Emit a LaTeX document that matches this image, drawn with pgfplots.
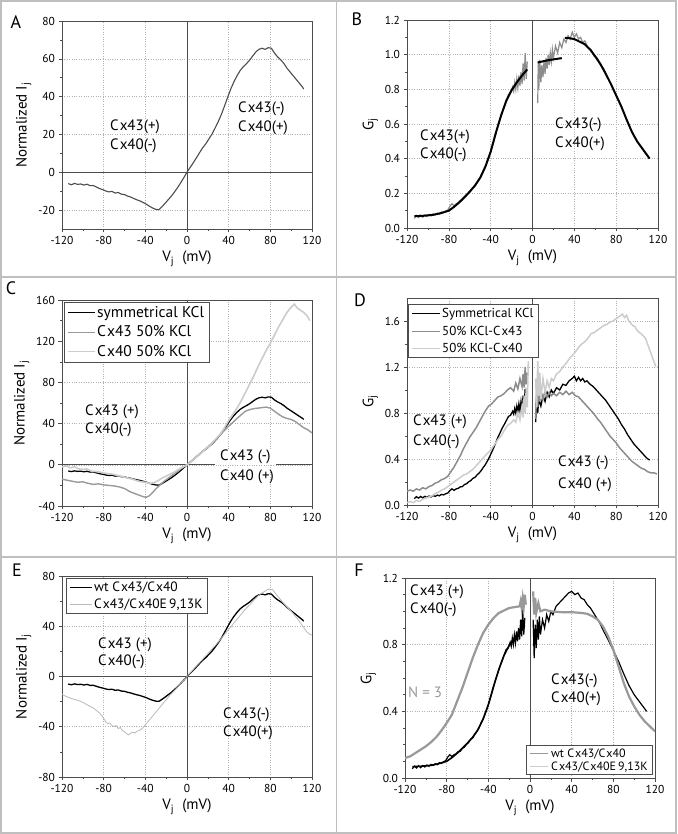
\documentclass[border=0pt]{standalone}
\usepackage{pgfplots}
\pgfplotsset{compat=1.18}
\usepackage{pgfplotstable}
\usepackage{fontspec}
\setmainfont{PT Sans}
\definecolor{frame}{gray}{0.75}
\definecolor{axc}{gray}{0.3}
\definecolor{mgray}{gray}{0.55}
\definecolor{cgray}{gray}{0.6}
\definecolor{lgray}{gray}{0.8}
\definecolor{dgray}{gray}{0.3}
\newcommand{\Cx}{C\kern1pt x}

\pgfplotstableread{
x y
-114 -6.0
-111 -6.6
-108 -5.9
-105 -6.4
-102 -6.2
-99 -6.8
-96 -6.3
-93 -7.1
-90 -7.0
-87 -7.8
-84 -8.6
-81 -9.2
-78 -9.9
-75 -10.4
-72 -10.1
-69 -11.0
-66 -10.7
-63 -11.6
-60 -11.8
-57 -12.6
-54 -13.1
-51 -13.9
-48 -14.6
-45 -15.2
-42 -16.0
-39 -16.9
-36 -18.0
-33 -18.9
-30 -19.6
-27 -19.8
-24 -18.2
-21 -16.4
-18 -14.5
-15 -12.6
-12 -10.4
-9 -8.1
-6 -5.5
-3 -2.8
0 0
3 2.5
6 5.0
9 7.6
12 10.3
15 12.9
18 15.0
21 17.6
24 20.2
27 23.4
30 26.8
33 30.6
36 35.0
39 39.6
42 44.0
45 47.8
48 51.0
51 53.8
54 55.8
57 57.4
60 59.2
63 61.4
66 63.6
69 65.0
72 65.6
75 65.0
78 65.9
81 65.6
84 63.0
87 61.0
90 59.5
93 57.5
96 55.0
99 53.0
102 51.0
105 49.0
108 47.0
111 45.0
112 44.0
}\tA

\pgfplotstableread{
x y
-113 0.055
-111 0.072
-109 0.060
-107 0.074
-105 0.062
-103 0.075
-101 0.066
-99 0.078
-97 0.070
-95 0.082
-93 0.075
-91 0.086
-89 0.080
-87 0.092
-85 0.088
-83 0.098
-81 0.104
-79 0.125
-77 0.140
-75 0.128
-73 0.140
-71 0.145
-69 0.158
-67 0.160
-65 0.178
-63 0.185
-61 0.202
-59 0.212
-57 0.232
-55 0.240
-53 0.262
-51 0.278
-49 0.300
-47 0.328
-45 0.352
-43 0.385
-41 0.420
-39 0.460
-37 0.500
-35 0.545
-33 0.590
-31 0.628
-29 0.668
-27 0.700
-25 0.735
-23 0.770
-21 0.780
-19 0.815
-18 0.790
-17 0.840
-16 0.800
-15 0.860
-14 0.810
-13 0.880
-12 0.820
-11 0.900
-10 0.830
-9 0.950
-8 0.850
-7 1.010
-6 0.860
-5 0.960
}\tBgL

\pgfplotstableread{
x y
5 0.72
5.5 0.96
6 0.80
7 0.97
8 0.84
9 0.94
10 0.87
11 0.96
12 0.89
13 0.98
14 0.92
15 1.00
16 0.94
17 1.01
18 0.96
19 1.03
20 0.98
22 1.05
24 1.01
26 1.07
28 1.04
30 1.09
32 1.07
34 1.11
36 1.09
38 1.13
40 1.10
42 1.12
44 1.09
46 1.10
48 1.07
50 1.08
53 1.04
56 1.03
59 0.99
62 0.98
65 0.94
68 0.92
70 0.89
}\tBgR

\pgfplotstableread{
x y
-113 0.068
-105 0.070
-95 0.076
-88 0.085
-80 0.100
-75 0.122
-70 0.148
-65 0.178
-60 0.210
-55 0.245
-50 0.290
-45 0.355
-40 0.440
-35 0.550
-30 0.650
-25 0.735
-20 0.795
-15 0.840
-10 0.880
-5 0.915
}\tBfL

\pgfplotstableread{
x y
5 0.955
15 0.968
28 0.980
}\tBfS

\pgfplotstableread{
x y
31 1.097
35 1.095
40 1.090
45 1.075
50 1.060
55 1.030
60 0.990
65 0.945
70 0.890
75 0.830
80 0.765
85 0.700
90 0.625
95 0.555
100 0.500
106 0.450
112 0.400
}\tBfR

\pgfplotstableread{
x y
-120 -14
-115 -15
-110 -16
-105 -17
-100 -16.5
-95 -18
-90 -19
-85 -18.5
-80 -19.5
-75 -20
-70 -20.5
-65 -21.5
-60 -23
-55 -26
-50 -28
-46 -29.5
-42 -31
-39 -31.5
-36 -30
-33 -27
-30 -23.5
-26 -19.5
-22 -16
-18 -13
-14 -10
-10 -7
-6 -4
-3 -2
0 0
4 3.5
8 7
12 10.5
16 14
20 17.5
24 21
28 25
32 29
36 33.5
40 37.5
44 41
48 45
52 48.5
56 52
60 53.5
64 54.5
68 55
72 55.5
76 56
80 55
84 52
88 49
92 46.5
96 45
100 44
104 42
108 39
112 36
116 34
120 31
}\tCm

\pgfplotstableread{
x y
-120 -2
-116 -1
-112 -3
-108 -2
-104 -4
-100 -4.5
-96 -4
-92 -6
-88 -6.5
-84 -7
-80 -8
-76 -8.5
-72 -9
-68 -10
-64 -11
-60 -12
-56 -13
-52 -14
-48 -15.5
-44 -16.5
-40 -17
-36 -18
-32 -17.5
-28 -15.5
-24 -13
-20 -11
-16 -9
-12 -7
-8 -4.5
-4 -2
0 0
4 3
8 6.5
12 10
16 13.5
20 17
24 21
28 25.5
32 30
36 36
40 43
44 49
48 55
52 62
56 70
60 78
64 86
68 95
72 103
76 111
80 118
84 126
88 134
92 141
96 148
100 153
103 156
106 152
109 150
112 148
115 145
118 140
}\tCl

\pgfplotstableread{
x y
3 0.72
4 0.95
5 0.80
6 0.92
8 0.86
10 0.95
12 0.90
14 0.98
16 0.94
18 1.00
20 0.97
23 1.02
26 1.00
29 1.05
32 1.04
35 1.08
38 1.10
40 1.12
42 1.08
44 1.11
46 1.08
48 1.10
50 1.07
52 1.08
55 1.05
58 1.03
61 1.00
64 0.97
67 0.94
70 0.91
73 0.87
76 0.83
79 0.79
82 0.75
85 0.70
88 0.66
91 0.61
94 0.57
97 0.53
100 0.50
103 0.47
106 0.44
109 0.41
112 0.39
}\tDkR

\pgfplotstableread{
x y
-120 0.12
-117 0.13
-114 0.12
-111 0.14
-108 0.13
-105 0.15
-102 0.14
-99 0.16
-96 0.17
-93 0.19
-90 0.20
-87 0.22
-84 0.23
-81 0.25
-78 0.29
-75 0.33
-72 0.38
-69 0.43
-66 0.49
-63 0.54
-60 0.59
-57 0.63
-54 0.67
-51 0.72
-48 0.77
-45 0.82
-42 0.86
-39 0.88
-36 0.91
-33 0.94
-30 0.95
-27 0.97
-24 1.00
-21 1.02
-18 0.99
-16 1.06
-14 1.01
-12 1.10
-10 1.03
-9 1.14
-8 1.02
-7 1.20
-6 1.05
-5 1.15
}\tDmL

\pgfplotstableread{
x y
3 0.75
4 1.00
5 0.85
6 1.05
7 0.90
8 0.98
10 0.92
12 0.99
14 0.94
16 0.98
18 0.95
20 0.97
23 0.95
26 0.98
29 0.96
32 0.99
35 0.96
38 0.98
41 0.95
44 0.94
47 0.91
50 0.88
53 0.85
56 0.82
59 0.79
62 0.75
65 0.72
68 0.68
71 0.64
74 0.60
77 0.57
80 0.54
83 0.50
86 0.47
89 0.44
92 0.41
95 0.38
98 0.36
101 0.34
104 0.32
107 0.31
110 0.29
113 0.28
116 0.28
119 0.27
}\tDmR

\pgfplotstableread{
x y
-120 0.02
-117 0.03
-114 0.02
-111 0.04
-108 0.03
-105 0.05
-102 0.06
-99 0.07
-96 0.08
-93 0.10
-90 0.11
-87 0.13
-84 0.14
-81 0.16
-78 0.18
-75 0.20
-72 0.22
-69 0.24
-66 0.26
-63 0.27
-60 0.29
-57 0.31
-54 0.34
-51 0.37
-48 0.40
-45 0.43
-42 0.46
-39 0.49
-36 0.53
-33 0.57
-30 0.60
-27 0.65
-24 0.69
-21 0.71
-18 0.74
-16 0.72
-14 0.80
-12 0.74
-10 0.86
-9 0.76
-8 0.95
-7 0.80
-6 1.02
-5 0.85
-4 1.25
}\tDlL

\pgfplotstableread{
x y
3 1.10
4 0.85
5 1.25
6 0.95
7 1.15
8 0.92
10 1.10
12 0.98
14 1.08
16 1.02
18 1.10
20 1.08
23 1.14
26 1.16
29 1.20
32 1.23
35 1.27
38 1.30
41 1.33
44 1.37
47 1.40
50 1.42
53 1.45
56 1.49
59 1.50
62 1.52
65 1.54
68 1.56
71 1.57
74 1.59
77 1.60
80 1.62
83 1.64
86 1.66
88 1.63
90 1.65
92 1.60
94 1.58
96 1.56
98 1.55
100 1.52
102 1.50
104 1.49
106 1.47
108 1.45
110 1.40
112 1.35
114 1.30
116 1.25
118 1.20
}\tDlR

\pgfplotstableread{
x y
-120 -14
-117 -15.5
-114 -16.5
-111 -17.5
-108 -18.2
-105 -19
-102 -19.8
-99 -21
-96 -22.5
-93 -23.8
-90 -25
-87 -27
-84 -29
-81 -32
-78 -36
-76 -37.5
-74 -37
-72 -39
-70 -40
-68 -39
-66 -41.5
-64 -40.5
-62 -43
-60 -44
-58 -45.5
-56 -46.5
-54 -45
-52 -44.5
-50 -45
-48 -43.5
-46 -43
-44 -42
-42 -40.5
-40 -38.5
-37 -35.5
-34 -32.5
-31 -29.5
-28 -26.5
-25 -23.5
-22 -20.5
-19 -17.5
-16 -14.5
-13 -12
-10 -9.3
-7 -6.5
-4 -3.7
0 0
4 3.7
8 7.4
12 11
16 14.6
20 18.3
24 22
28 25.5
32 29.5
36 33.5
40 37.5
44 41.5
48 45.5
52 49.5
56 53.5
60 57
64 60.5
68 64
72 66.5
75 68
78 69.5
80 69
82 69.5
85 66
88 63
91 60
94 57
97 54.5
100 52
103 49
106 46
109 42.5
112 39
115 35.5
118 33.5
120 33
}\tEg

\pgfplotstableread{
x y
-120 0.120
-115 0.130
-110 0.150
-105 0.170
-100 0.190
-95 0.215
-90 0.245
-85 0.285
-80 0.330
-75 0.380
-70 0.460
-65 0.540
-60 0.630
-55 0.720
-50 0.800
-45 0.870
-40 0.920
-35 0.960
-30 0.990
-25 1.005
-20 1.020
-15 1.025
-10 1.030
-9 1.060
-8 1.020
-7 1.080
-6 1.030
-5 1.100
-4 1.040
}\tFgL

\pgfplotstableread{
x y
3 1.12
4 0.98
5 1.08
6 0.99
8 1.05
10 1.00
14 1.01
20 1.00
30 0.995
40 0.995
50 0.990
55 0.985
60 0.970
65 0.950
70 0.910
75 0.850
80 0.770
85 0.670
90 0.570
95 0.490
100 0.430
105 0.380
110 0.340
115 0.310
120 0.280
}\tFgR

\pgfplotstableread{
x y
3 0.95
4 0.72
5 0.92
6 0.78
7 0.95
8 0.83
9 0.97
10 0.86
12 0.95
14 0.90
16 0.98
18 0.94
20 1.00
22 0.98
25 1.03
28 1.05
31 1.07
34 1.09
37 1.11
40 1.12
43 1.10
46 1.11
49 1.08
52 1.07
55 1.04
58 1.02
61 0.99
64 0.96
67 0.93
70 0.89
75 0.83
80 0.765
85 0.70
90 0.625
95 0.555
100 0.50
106 0.45
112 0.40
}\tFkR

\pgfplotsset{
  panel/.style={
    scale only axis, anchor=south west,
    xmin=-120, xmax=120, xtick={-120,-80,...,120},
    minor x tick num=1,
    tick align=outside, xtick pos=bottom, ytick pos=left,
    axis line style={axc, line width=0.7pt},
    major tick style={axc, line width=0.6pt}, major tick length=3.5pt,
    minor tick style={axc, line width=0.5pt}, minor tick length=2pt,
    grid=major, grid style={dotted, gray!60, line width=0.5pt},
    tick label style={font=\fontsize{11.5}{13}\selectfont, text=black},
    label style={font=\fontsize{15}{17}\selectfont},
    xlabel={V\textsubscript{j}\ \ (mV)},
    /pgf/number format/assume math mode=true,
    legend cell align=left,
  },
  gfmt/.style={yticklabel style={/pgf/number format/.cd, fixed, fixed zerofill, precision=1}},
  zl/.style={axc, line width=0.7pt, forget plot},
}
\tikzset{
  ann/.style={anchor=west, inner sep=0pt, font=\fontsize{15}{17}\selectfont},
  lab/.style={inner sep=0pt, font=\fontsize{18}{20}\selectfont},
}

\begin{document}
\begin{tikzpicture}[x=1pt,y=1pt]
\path[use as bounding box] (0,0) rectangle (677,834);
\draw[frame, line width=1.2pt] (1,1) rectangle (676,833);
\draw[frame, line width=1.5pt] (336.5,0) -- (336.5,834);
\draw[frame, line width=1.5pt] (0,557) -- (677,557);
\draw[frame, line width=1.5pt] (0,277) -- (677,277);

% ---------- A
\begin{axis}[panel, at={(62pt,605pt)}, width=250pt, height=208pt,
  ymin=-30, ymax=80, ytick={-20,0,...,80}, minor y tick num=1,
  ylabel={Normalized I\textsubscript{j}}]
\addplot[zl] coordinates {(0,-30) (0,80)};
\addplot[zl] coordinates {(-120,0) (120,0)};
\addplot[dgray, line width=1.1pt] table {\tA};
\end{axis}

% ---------- B
\begin{axis}[panel, gfmt, at={(407pt,606pt)}, width=251pt, height=208pt,
  ymin=0, ymax=1.2, ytick={0,0.2,...,1.21}, minor y tick num=1,
  ylabel={G\textsubscript{j}}]
\addplot[zl] coordinates {(0,0) (0,1.2)};
\addplot[mgray, line width=1.2pt] table {\tBgL};
\addplot[mgray, line width=1.2pt] table {\tBgR};
\addplot[black, line width=2pt] table {\tBfL};
\addplot[black, line width=2pt] table {\tBfS};
\addplot[black, line width=2pt] table {\tBfR};
\end{axis}

% ---------- C
\begin{axis}[panel, at={(62pt,328pt)}, width=250pt, height=206pt,
  ymin=-40, ymax=160, ytick={-40,0,...,160}, minor y tick num=1,
  ylabel={Normalized I\textsubscript{j}},
  legend style={at={(0.008,0.99)}, anchor=north west, draw=axc, line width=0.6pt,
    font=\fontsize{15.5}{17}\selectfont, inner xsep=3pt, inner ysep=2pt, row sep=3pt},
  legend image code/.code={\draw[#1, line width=0.9pt] (0pt,0pt) -- (27pt,0pt);}]
\addplot[zl] coordinates {(0,-40) (0,160)};
\addplot[zl] coordinates {(-120,0) (120,0)};
\addplot[black, line width=1.3pt] table {\tA};
\addlegendentry{symmetrical KCl}
\addplot[cgray, line width=1.4pt] table {\tCm};
\addlegendentry{\Cx43 50\% KCl}
\addplot[lgray, line width=1.6pt] table {\tCl};
\addlegendentry{\Cx40 50\% KCl}
\end{axis}

% ---------- D
\begin{axis}[panel, gfmt, at={(407pt,329pt)}, width=251pt, height=207pt,
  ymin=0, ymax=1.8, ytick={0,0.4,...,1.61}, minor y tick num=1,
  ylabel={G\textsubscript{j}},
  legend style={at={(0.004,0.97)}, anchor=north west, draw=axc, line width=0.6pt,
    font=\fontsize{13}{14}\selectfont, inner xsep=3pt, inner ysep=1.5pt, row sep=3pt},
  legend image code/.code={\draw[#1, line width=0.9pt] (0pt,0pt) -- (28pt,0pt);}]
\addplot[zl] coordinates {(0,0) (0,1.8)};
\addplot[black, line width=1.3pt] table {\tBgL};
\addlegendentry{Symmetrical KCl}
\addplot[black, line width=1.3pt, forget plot] table {\tDkR};
\addplot[mgray, line width=1.5pt] table {\tDmL};
\addlegendentry{50\% KCl-\Cx43}
\addplot[mgray, line width=1.5pt, forget plot] table {\tDmR};
\addplot[lgray, line width=1.5pt] table {\tDlL};
\addlegendentry{50\% KCl-\Cx40}
\addplot[lgray, line width=1.5pt, forget plot] table {\tDlR};
\end{axis}

% ---------- E
\begin{axis}[panel, at={(62pt,57pt)}, width=250pt, height=201pt,
  ymin=-80, ymax=80, ytick={-80,-40,...,80}, minor y tick num=1,
  ylabel={Normalized I\textsubscript{j}},
  legend style={at={(0.016,0.99)}, anchor=north west, draw=axc, line width=0.6pt,
    font=\fontsize{13.5}{15}\selectfont, inner xsep=3pt, inner ysep=1.5pt, row sep=1.5pt},
  legend image code/.code={\draw[#1, line width=0.9pt] (0pt,0pt) -- (22pt,0pt);}]
\addplot[zl] coordinates {(0,-80) (0,80)};
\addplot[zl] coordinates {(-120,0) (120,0)};
\addplot[black, line width=1.3pt] table {\tA};
\addlegendentry{wt \Cx43/\Cx40}
\addplot[gray!55, line width=0.8pt] table {\tEg};
\addlegendentry{\Cx43/\Cx40E\,9,13K}
\end{axis}

% ---------- F
\begin{axis}[panel, gfmt, at={(405pt,56pt)}, width=250pt, height=200pt,
  ymin=0, ymax=1.2, ytick={0,0.4,...,1.21}, minor y tick num=3,
  ylabel={G\textsubscript{j}},
  legend style={at={(0.992,0.015)}, anchor=south east, draw=axc, line width=0.6pt,
    font=\fontsize{12}{13}\selectfont, inner xsep=3pt, inner ysep=1pt, row sep=-1pt},
  legend image code/.code={\draw[#1] (0pt,0pt) -- (18pt,0pt);}]
\addplot[zl] coordinates {(0,0) (0,1.2)};
\addplot[black, line width=1.2pt, forget plot] table {\tBgL};
\addplot[black, line width=1.6pt, forget plot] table {\tBfL};
\addplot[black, line width=1.2pt, forget plot] table {\tFkR};
\addplot[cgray, line width=2.2pt, forget plot] table {\tFgL};
\addplot[cgray, line width=2.2pt, forget plot] table {\tFgR};
\addlegendimage{cgray, line width=1.5pt}
\addlegendentry{wt \Cx43/\Cx40}
\addlegendimage{lgray, line width=1.5pt}
\addlegendentry{\Cx43/\Cx40E\,9,13K}
\end{axis}

% ---------- annotations
\node[ann] at (110,834-127) {\Cx43(+)};
\node[ann] at (110,834-146) {\Cx40(-)};
\node[ann] at (238,834-109) {\Cx43(-)};
\node[ann] at (238,834-128) {\Cx40(+)};

\node[ann] at (420,834-137) {\Cx43(+)};
\node[ann] at (420,834-155) {\Cx40(-)};
\node[ann] at (555,834-125) {\Cx43(-)};
\node[ann] at (555,834-144) {\Cx40(+)};

\node[ann] at (85,834-412) {\Cx43 (+)};
\node[ann] at (85,834-430) {\Cx40(-)};
\node[ann, fill=white, inner xsep=5pt, inner ysep=1pt] at (215,834-457) {\Cx43 (-)};
\node[ann] at (220,834-477) {\Cx40 (+)};

\node[ann] at (413,834-422) {\Cx43 (+)};
\node[ann] at (413,834-442) {\Cx40(-)};
\node[ann] at (558,834-463) {\Cx43 (-)};
\node[ann] at (558,834-485) {\Cx40 (+)};

\node[ann] at (98,834-645) {\Cx43 (+)};
\node[ann] at (98,834-662) {\Cx40(-)};
\node[ann] at (223,834-715) {\Cx43(-)};
\node[ann] at (223,834-733) {\Cx40(+)};

\node[ann] at (410,834-592) {\Cx43 (+)};
\node[ann] at (410,834-610) {\Cx40(-)};
\node[ann, text=cgray] at (408,834-692) {N = 3};
\node[ann] at (551,834-681) {\Cx43(-)};
\node[ann] at (551,834-699) {\Cx40(+)};

\node[lab] at (16,834-22) {A};
\node[lab] at (357,834-19) {B};
\node[lab] at (11,834-288) {C};
\node[lab] at (360,834-300) {D};
\node[lab] at (17,834-570) {E};
\node[lab] at (359,834-570) {F};
\end{tikzpicture}
\end{document}
